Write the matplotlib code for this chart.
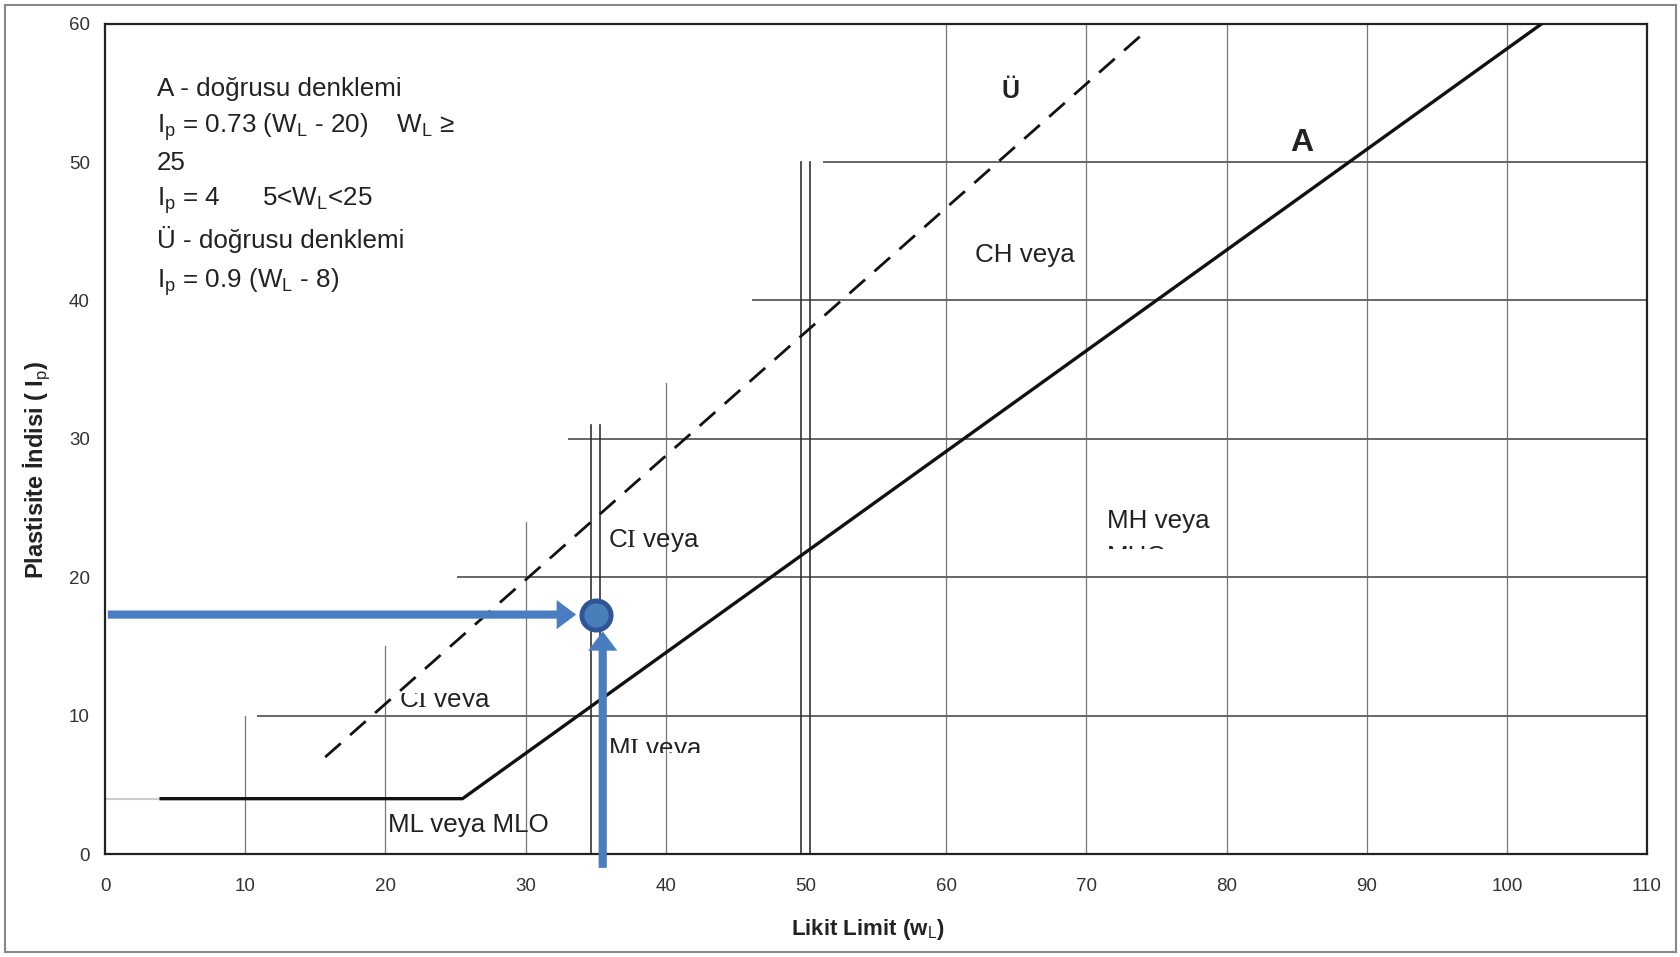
import matplotlib
matplotlib.use('Agg')
import matplotlib.pyplot as plt
from matplotlib.patches import Rectangle, FancyArrowPatch
from matplotlib.transforms import Bbox, TransformedBbox

plt.rcParams['font.family'] = ['Liberation Sans', 'DejaVu Sans']
plt.rcParams['mathtext.fontset'] = 'custom'
plt.rcParams['mathtext.rm'] = 'Liberation Serif'
plt.rcParams['mathtext.sf'] = 'Liberation Sans'

# A-line (Ip = 4 then Ip = 0.73(wL-20)) and U-line (Ip = 0.9(wL-8))
a_wl = [4.0, 25.5, 102.5]
a_ip = [4.0, 4.0, 60.0]
u_wl = [15.7, 74.3]
u_ip = [7.0, 59.5]

# staircase grid
vgrid_x = [10, 20, 30, 40, 60, 70, 80, 90, 100]
vgrid_top = [10, 15, 24, 34, 60, 60, 60, 60, 60]
hgrid_y = [10, 20, 30, 40, 50]
hgrid_start = [10.9, 25.2, 33.1, 46.2, 51.3]
double_x = [35, 50]
double_top = [31, 50]

# sample soil
sample_wl = 35.0
sample_ip = 17.3

xticks = list(range(0, 111, 10))
yticks = list(range(0, 61, 10))

txt = '#222222'
blue = '#4a7dc0'
fs = 18.7

fig = plt.figure(figsize=(16.81, 9.57), dpi=100)
ax = fig.add_axes([0.0625, 0.1076, 0.9173, 0.8677])
ax.set_xlim(0, 110)
ax.set_ylim(0, 60)

for x, top in zip(vgrid_x, vgrid_top):
    ax.plot([x, x], [0, top], color='#777777', lw=0.9, zorder=1)
for y, start in zip(hgrid_y, hgrid_start):
    ax.plot([start, 110], [y, y], color='#666666', lw=1.4, zorder=1)
ax.plot([0, 4], [4, 4], color='#cccccc', lw=1.5, zorder=1)
for x, top in zip(double_x, double_top):
    for dx in (-0.32, 0.32):
        ax.plot([x + dx, x + dx], [0, top], color='#333333', lw=1.2, zorder=2)

ax.plot(a_wl, a_ip, color='#111111', lw=2.4, zorder=3)
ax.plot(u_wl, u_ip, color='#111111', lw=2.0, linestyle=(0, (7.5, 4.5)), zorder=3)

# equations block
eq_lines = ['A - doğrusu denklemi',
            r'I$_\mathsf{p}$ = 0.73 (W$_\mathsf{L}$ - 20)    W$_\mathsf{L}$ ≥',
            '25',
            r'I$_\mathsf{p}$ = 4      5<W$_\mathsf{L}$<25',
            'Ü - doğrusu denklemi',
            r'I$_\mathsf{p}$ = 0.9 (W$_\mathsf{L}$ - 8)']
eq_y = [55.3, 52.5, 49.9, 47.2, 44.4, 41.3]
for s, y in zip(eq_lines, eq_y):
    ax.text(3.7, y, s, fontsize=fs, color=txt, va='center', ha='left')

ax.text(64.6, 55.1, 'Ü', fontsize=18, fontweight='bold', color=txt, ha='center', va='center')
ax.text(85.4, 51.4, 'A', fontsize=23, fontweight='bold', color=txt, ha='center', va='center')
ax.text(65.6, 43.3, 'CH veya', fontsize=fs, color=txt, ha='center', va='center')
ax.text(35.9, 22.2, r'C$\mathrm{I}$ veya', fontsize=fs, color=txt, ha='left', va='baseline')
ax.text(20.2, 2.1, 'ML veya MLO', fontsize=fs, color=txt, ha='left', va='center')
ax.text(71.5, 23.55, 'MH veya', fontsize=fs, color=txt, ha='left', va='baseline')


def clipped(x, y, s, y0, y1):
    # only the band y0..y1 of the label stays visible
    t = ax.text(x, y, s, fontsize=fs, color=txt, ha='left', va='baseline')
    t.set_clip_box(TransformedBbox(Bbox([[x - 2, y0], [x + 20, y1]]), ax.transData))
    t.set_clip_on(True)


clipped(71.5, 20.95, 'MHO', 22.02, 23.0)
clipped(21.0, 10.6, r'C$\mathrm{I}$ veya', 10.6, 11.6)
clipped(35.9, 7.08, r'M$\mathrm{I}$ veya', 7.3, 9.5)

# sample arrows and point
style = 'simple,head_length=1.0,head_width=1.5,tail_width=0.42'
h_arrow = FancyArrowPatch((0, sample_ip), (33.8, sample_ip), arrowstyle=style,
                          mutation_scale=14, color=blue, lw=0, zorder=5, clip_on=False)
v_arrow = FancyArrowPatch((35.5, -1.2), (35.5, 16.3), arrowstyle=style,
                          mutation_scale=14, color=blue, lw=0, zorder=5, clip_on=False)
ax.add_patch(h_arrow)
ax.add_patch(v_arrow)
ax.plot([sample_wl], [sample_ip], 'o', ms=21, mfc='#4a7ebb', mec='#2f5597', mew=3.5,
        zorder=6, clip_on=False)

ax.set_xticks(xticks)
ax.set_yticks(yticks)
ax.tick_params(axis='both', length=0, labelsize=13.5, labelcolor='#333333')
ax.tick_params(axis='x', pad=17)
ax.tick_params(axis='y', pad=11)
for sp in ax.spines.values():
    sp.set_color('#222222')
    sp.set_linewidth(1.6)

fig.text(0.5163, 1 - 930 / 957, r'Likit Limit (w$_\mathsf{L}$)', fontsize=16, fontweight='bold',
         color=txt, ha='center', va='center')
fig.text(36 / 1681, 1 - 470 / 957, r'Plastisite İndisi ( I$_\mathsf{p}$)', fontsize=17,
         fontweight='bold', color=txt, ha='center', va='center', rotation=90)

fig.patches.append(Rectangle((0.003, 0.005), 0.994, 0.99, transform=fig.transFigure,
                             fill=False, edgecolor='#888888', lw=1.5))

fig.savefig('out.png', dpi=100, facecolor='white')
